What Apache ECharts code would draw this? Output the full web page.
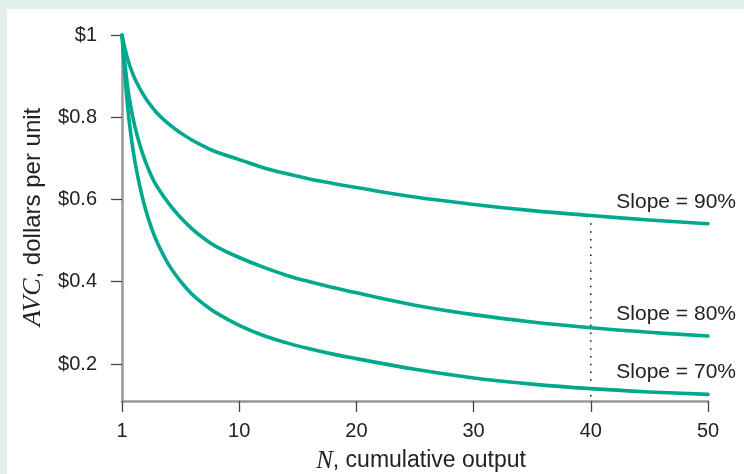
<!DOCTYPE html>
<html>
<head>
<meta charset="utf-8">
<style>
  html, body { margin: 0; padding: 0; background: #e1f0e8; }
  #chart { width: 744px; height: 474px; }
</style>
<script src="https://cdn.jsdelivr.net/npm/echarts@6/dist/echarts.min.js"></script>
</head>
<body>
<div id="chart"></div>
<script>
// Position along the N axis (0 is the origin labelled "1")
const nPos = [0, 0.5, 1, 1.5, 2, 2.5, 3, 4, 5, 6, 7, 8, 10, 12, 14, 16, 18, 20, 25, 30, 35, 40, 45, 50];
// Average variable cost, dollars per unit
const v90 = [1, 0.94, 0.90, 0.871, 0.847, 0.827, 0.810, 0.783, 0.762, 0.744, 0.729, 0.716, 0.697, 0.678, 0.663, 0.650, 0.639, 0.629, 0.606, 0.588, 0.573, 0.561, 0.550, 0.541];
const v80 = [1, 0.87, 0.79, 0.735, 0.692, 0.658, 0.631, 0.590, 0.556, 0.528, 0.505, 0.486, 0.459, 0.436, 0.416, 0.400, 0.386, 0.373, 0.343, 0.320, 0.302, 0.288, 0.277, 0.268];
const v70 = [1, 0.82, 0.71, 0.635, 0.577, 0.532, 0.496, 0.441, 0.401, 0.369, 0.345, 0.325, 0.294, 0.27, 0.252, 0.237, 0.224, 0.213, 0.187, 0.166, 0.151, 0.140, 0.132, 0.126];
const seriesNames = ['Slope = 90%', 'Slope = 80%', 'Slope = 70%'];
const yTickValues = [0.2, 0.4, 0.6, 0.8, 1];
const yTickLabels = ['$0.2', '$0.4', '$0.6', '$0.8', '$1'];
const xTickValues = [0, 10, 20, 30, 40, 50];
const xTickLabels = ['1', '10', '20', '30', '40', '50'];
const markerN = 40;      // dotted marker position
const markerTop = 0.561; // value of 90% curve at marker
const yMin = 0.11;

const teal = '#00a88e';
const font = '"Liberation Sans", Arial, sans-serif';
const serif = '"Liberation Serif", "Times New Roman", serif';

const chart = echarts.init(document.getElementById('chart'), null, { renderer: 'canvas' });

function mk(vals) { return nPos.map((n, i) => [n, vals[i]]); }

const allVals = [v90, v80, v70];
const series = allVals.map((vals, i) => ({
  type: 'line',
  name: seriesNames[i],
  data: mk(vals),
  showSymbol: false,
  smooth: 0.4,
  lineStyle: { color: teal, width: 3.6, cap: 'round', join: 'round' },
  z: 3,
  silent: true
}));
series.push({
  type: 'line',
  data: [[markerN, markerTop], [markerN, yMin]],
  showSymbol: false,
  lineStyle: { color: '#111', width: 1.5, type: [1.5, 6.3] },
  z: 2,
  silent: true
});

chart.setOption({
  backgroundColor: 'transparent',
  animation: false,
  grid: { left: 122, right: 36, top: 35, bottom: 73 },
  xAxis: {
    type: 'value', min: 0, max: 50, interval: 10,
    axisLine: { show: true, onZero: false, lineStyle: { color: '#999', width: 2.5 } },
    axisTick: { show: true, length: 11, lineStyle: { color: '#444', width: 1.3 } },
    axisLabel: {
      color: '#222', fontSize: 20, fontFamily: font, margin: 20,
      formatter: v => xTickLabels[xTickValues.indexOf(v)] ?? ''
    },
    splitLine: { show: false }
  },
  yAxis: {
    type: 'value', min: yMin, max: 1,
    axisLine: { show: true, onZero: false, lineStyle: { color: '#999', width: 2.5 } },
    axisTick: { show: true, length: 11, customValues: yTickValues, lineStyle: { color: '#444', width: 1.3 } },
    axisLabel: {
      color: '#222', fontSize: 20, fontFamily: font, margin: 25,
      customValues: yTickValues,
      formatter: v => {
        const k = yTickValues.findIndex(t => Math.abs(t - v) < 1e-6);
        return k >= 0 ? yTickLabels[k] : '';
      }
    },
    splitLine: { show: false }
  },
  series: series
});

// Background panel and text annotations
const gfx = [
  { type: 'rect', shape: { x: 7, y: 9, width: 744, height: 474 }, style: { fill: '#ffffff' }, z: -10, silent: true },
  {
    type: 'text', x: 421, y: 461,
    style: {
      text: '{i|N}, cumulative output',
      font: '23px ' + font, fill: '#222', align: 'center', verticalAlign: 'middle',
      rich: { i: { fontFamily: serif, fontStyle: 'italic', fontSize: 25, fill: '#222' } }
    }
  },
  {
    type: 'text', x: 33, y: 217, rotation: Math.PI / 2,
    style: {
      text: '{i|AVC}, dollars per unit',
      font: '24px ' + font, fill: '#222', align: 'center', verticalAlign: 'middle',
      rich: { i: { fontFamily: serif, fontStyle: 'italic', fontSize: 26, fill: '#222' } }
    }
  }
];
allVals.forEach((vals, i) => {
  const last = vals.length - 1;
  const p = chart.convertToPixel({ gridIndex: 0 }, [nPos[last], vals[last]]);
  gfx.push({
    type: 'text', x: p[0] + 28, y: p[1] - 22,
    style: { text: seriesNames[i], font: '21px ' + font, fill: '#222', align: 'right', verticalAlign: 'middle' }
  });
});
chart.setOption({ graphic: gfx });
</script>
</body>
</html>
